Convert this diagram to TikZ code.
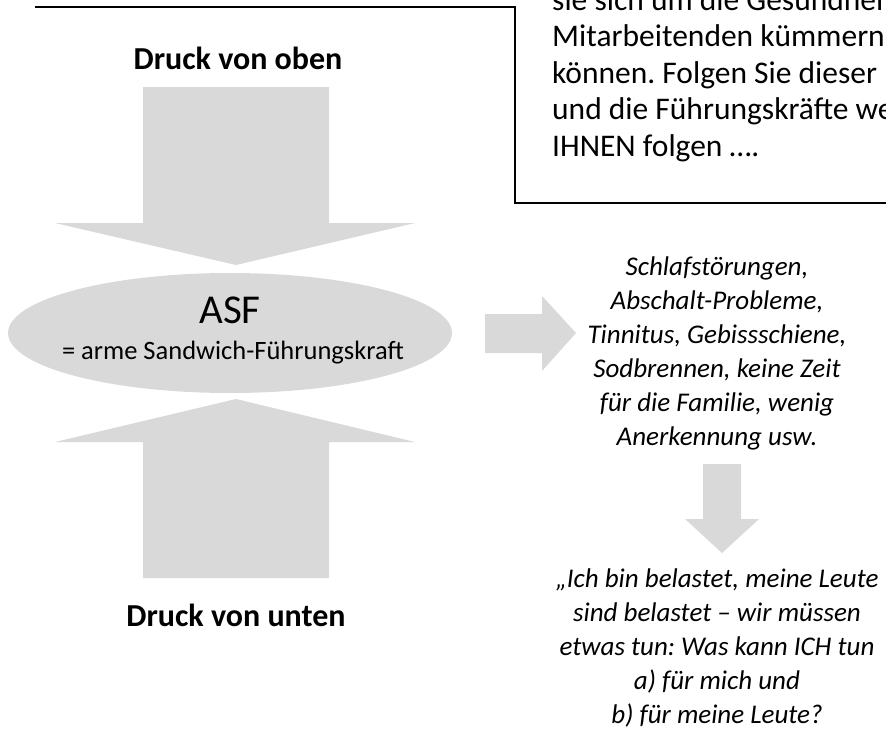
\documentclass[tikz,border=0pt]{standalone}
\usepackage{fontspec}
\setmainfont{Carlito}
\frenchspacing
\usetikzlibrary{positioning}
\usetikzlibrary{shapes.geometric}
\definecolor{pressgray}{HTML}{D9D9D9}
\tikzset{pressure/.style={font=\fontsize{32}{38}\selectfont\bfseries}}
\tikzset{blockarrow/.style={fill=pressgray, draw=none}}
\tikzset{note/.style={font=\fontsize{27}{34}\selectfont\itshape, align=center}}

\begin{document}
\begin{tikzpicture}[x=1pt,y=-1pt]
    \useasboundingbox (0,0) rectangle (886,742);
    \clip (0,0) rectangle (886,742);
    % the cut off text box on the top right
    \draw[line width=2.2pt] (35,7) -- (515,7) -- (515,203) -- (886,203);
    \node[anchor=north west, inner sep=0pt, align=left,
          font=\fontsize{31.5}{36.5}\selectfont] (hint) at (552,-12)
        {sie sich um die Gesundheit\\Mitarbeitenden kümmern\\können. Folgen Sie dieser\\und die Führungskräfte we\\IHNEN folgen ….};
    % pressure from above and from below
    \node[pressure] (oben) at (238,58) {Druck von oben};
    \fill[blockarrow] (143,87) -- (329,87) -- (329,223) -- (415,223) -- (236,265)
        -- (55,223) -- (143,223) -- cycle;
    \node[ellipse, fill=pressgray, minimum width=444, minimum height=120] (asf) at (230,333) {};
    \node[font=\fontsize{41}{44}\selectfont] (asfname) at (230,310) {ASF};
    \node[font=\fontsize{26.5}{32}\selectfont] (asfmeaning) at (233,353) {= arme Sandwich-Führungskraft};
    \fill[blockarrow] (143,578) -- (329,578) -- (329,442) -- (415,442) -- (236,399)
        -- (55,442) -- (143,442) -- cycle;
    \node[pressure] (unten) at (236,615) {Druck von unten};
    % consequences
    \fill[blockarrow] (485,314) -- (542,314) -- (542,296) -- (576,333) -- (542,371)
        -- (542,353) -- (485,353) -- cycle;
    \node[note] (folgen) at (717,353)
        {Schlafstörungen,\\Abschalt-Probleme,\\Tinnitus, Gebissschiene,\\Sodbrennen, keine Zeit\\für die Familie, wenig\\Anerkennung usw.};
    \fill[blockarrow] (703,464) -- (741,464) -- (741,519) -- (759,519) -- (722,553)
        -- (685,519) -- (703,519) -- cycle;
    \node[note] (frage) at (717,648)
        {„Ich bin belastet, meine Leute\\sind belastet – wir müssen\\etwas tun: Was kann ICH tun\\a) für mich und\\b) für meine Leute?};
\end{tikzpicture}
\end{document}
